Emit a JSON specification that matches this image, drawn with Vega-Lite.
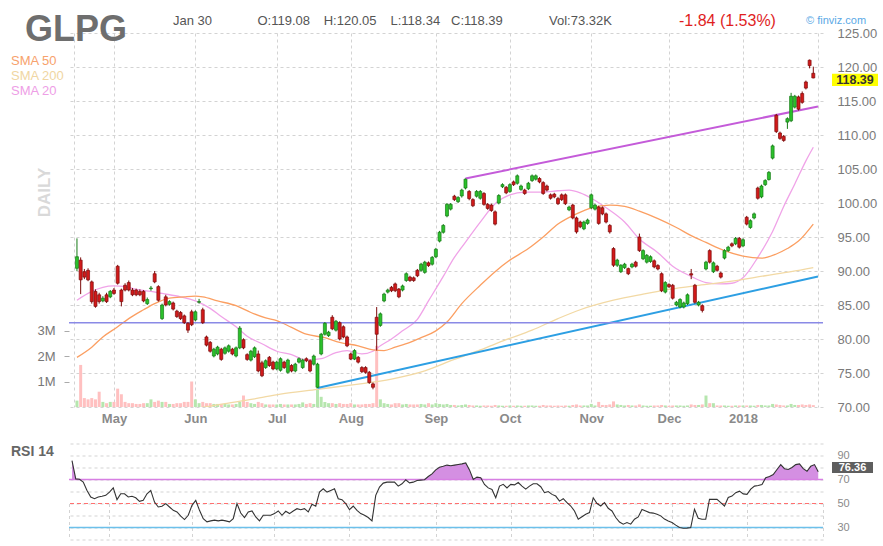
{
"$schema": "https://vega.github.io/schema/vega-lite/v6.json",
"padding": 0,
"autosize": {"type": "pad"},
"background": "white",
"bounds": "flush",
"spacing": 36.5,
"config": {
  "view": {"stroke": null},
  "font": "Liberation Sans",
  "axis": {"gridColor": "#d3d3d3", "gridDash": [3, 3], "gridWidth": 1, "domain": false, "ticks": false, "title": null}
},
"datasets": {
"ohlc": [
{"i":0,"o":90.4,"h":94.8,"l":90.0,"c":92.1,"v":250000,"rsi":85.7},
{"i":1,"o":91.6,"h":92.0,"l":86.6,"c":88.7,"v":1650000,"rsi":70.5},
{"i":2,"o":89.9,"h":90.3,"l":88.8,"c":89.1,"v":350000,"rsi":70.2},
{"i":3,"o":90.1,"h":90.4,"l":88.5,"c":88.7,"v":300000,"rsi":67.8},
{"i":4,"o":88.4,"h":88.6,"l":85.2,"c":85.5,"v":350000,"rsi":60.9},
{"i":5,"o":87.0,"h":87.3,"l":84.6,"c":84.8,"v":300000,"rsi":55.4},
{"i":6,"o":86.5,"h":86.8,"l":85.2,"c":85.5,"v":600000,"rsi":54.0},
{"i":7,"o":85.6,"h":86.3,"l":85.4,"c":86.0,"v":200000,"rsi":55.4},
{"i":8,"o":86.5,"h":86.8,"l":85.3,"c":85.5,"v":150000,"rsi":56.0},
{"i":9,"o":86.2,"h":87.2,"l":86.0,"c":87.0,"v":200000,"rsi":56.8},
{"i":10,"o":87.2,"h":87.5,"l":86.5,"c":86.7,"v":200000,"rsi":59.5},
{"i":11,"o":90.7,"h":90.9,"l":88.0,"c":88.2,"v":720000,"rsi":63.0},
{"i":12,"o":87.2,"h":87.4,"l":84.8,"c":85.5,"v":500000,"rsi":53.2},
{"i":13,"o":87.9,"h":88.2,"l":87.0,"c":87.2,"v":200000,"rsi":58.1},
{"i":14,"o":88.3,"h":88.6,"l":87.0,"c":87.2,"v":150000,"rsi":58.1},
{"i":15,"o":87.2,"h":87.5,"l":86.3,"c":86.5,"v":150000,"rsi":55.4},
{"i":16,"o":87.2,"h":87.4,"l":86.3,"c":86.5,"v":120000,"rsi":56.0},
{"i":17,"o":87.0,"h":87.3,"l":86.3,"c":86.5,"v":120000,"rsi":54.8},
{"i":18,"o":87.0,"h":87.2,"l":85.4,"c":85.6,"v":150000,"rsi":51.8},
{"i":19,"o":85.2,"h":86.1,"l":85.0,"c":85.8,"v":150000,"rsi":52.6},
{"i":20,"o":87.4,"h":87.8,"l":87.1,"c":87.5,"v":300000,"rsi":58.1},
{"i":21,"o":89.6,"h":90.0,"l":88.2,"c":88.4,"v":200000,"rsi":60.9},
{"i":22,"o":87.7,"h":87.9,"l":85.5,"c":85.7,"v":250000,"rsi":51.2},
{"i":23,"o":83.0,"h":85.2,"l":82.8,"c":85.0,"v":200000,"rsi":47.1},
{"i":24,"o":86.2,"h":86.5,"l":84.8,"c":85.0,"v":200000,"rsi":47.7},
{"i":25,"o":85.1,"h":85.7,"l":84.9,"c":85.5,"v":120000,"rsi":49.9},
{"i":26,"o":85.3,"h":85.5,"l":84.2,"c":84.4,"v":120000,"rsi":47.1},
{"i":27,"o":84.1,"h":84.3,"l":83.1,"c":83.3,"v":150000,"rsi":44.3},
{"i":28,"o":83.9,"h":84.1,"l":82.8,"c":83.0,"v":150000,"rsi":43.0},
{"i":29,"o":83.4,"h":83.6,"l":82.2,"c":82.4,"v":200000,"rsi":39.4},
{"i":30,"o":82.3,"h":82.5,"l":80.9,"c":81.3,"v":200000,"rsi":36.6},
{"i":31,"o":84.0,"h":84.3,"l":81.9,"c":82.1,"v":1000000,"rsi":40.2},
{"i":32,"o":82.8,"h":84.2,"l":82.6,"c":84.0,"v":300000,"rsi":48.5},
{"i":33,"o":85.4,"h":85.9,"l":85.2,"c":85.5,"v":150000,"rsi":52.6},
{"i":34,"o":84.3,"h":84.6,"l":82.2,"c":82.4,"v":200000,"rsi":44.3},
{"i":35,"o":80.3,"h":80.5,"l":78.9,"c":79.1,"v":150000,"rsi":37.4},
{"i":36,"o":79.5,"h":79.7,"l":78.0,"c":78.2,"v":150000,"rsi":34.7},
{"i":37,"o":77.5,"h":78.7,"l":77.3,"c":78.5,"v":120000,"rsi":35.5},
{"i":38,"o":77.8,"h":79.0,"l":77.6,"c":78.8,"v":120000,"rsi":36.1},
{"i":39,"o":78.5,"h":78.7,"l":76.8,"c":77.0,"v":120000,"rsi":35.5},
{"i":40,"o":77.9,"h":78.9,"l":77.7,"c":78.7,"v":120000,"rsi":36.1},
{"i":41,"o":78.2,"h":79.2,"l":78.0,"c":79.0,"v":100000,"rsi":35.5},
{"i":42,"o":78.5,"h":78.7,"l":77.6,"c":77.8,"v":100000,"rsi":34.7},
{"i":43,"o":77.5,"h":78.9,"l":77.3,"c":78.7,"v":120000,"rsi":37.4},
{"i":44,"o":78.7,"h":81.9,"l":78.5,"c":81.6,"v":200000,"rsi":49.9},
{"i":45,"o":79.9,"h":80.1,"l":78.5,"c":78.7,"v":450000,"rsi":42.1},
{"i":46,"o":77.7,"h":77.9,"l":76.8,"c":77.0,"v":200000,"rsi":38.3},
{"i":47,"o":76.9,"h":78.4,"l":76.7,"c":78.2,"v":150000,"rsi":43.0},
{"i":48,"o":77.4,"h":78.9,"l":77.2,"c":78.7,"v":120000,"rsi":43.8},
{"i":49,"o":77.8,"h":78.3,"l":75.1,"c":75.3,"v":200000,"rsi":38.8},
{"i":50,"o":76.5,"h":76.8,"l":74.4,"c":74.6,"v":150000,"rsi":35.5},
{"i":51,"o":75.8,"h":77.0,"l":75.6,"c":76.8,"v":100000,"rsi":40.2},
{"i":52,"o":77.3,"h":77.5,"l":75.9,"c":76.1,"v":100000,"rsi":40.2},
{"i":53,"o":76.6,"h":76.8,"l":75.4,"c":75.6,"v":100000,"rsi":40.2},
{"i":54,"o":75.6,"h":76.8,"l":75.4,"c":76.6,"v":100000,"rsi":41.6},
{"i":55,"o":75.4,"h":77.3,"l":75.2,"c":77.1,"v":120000,"rsi":43.8},
{"i":56,"o":76.6,"h":76.8,"l":75.6,"c":75.8,"v":100000,"rsi":40.2},
{"i":57,"o":75.1,"h":77.1,"l":74.9,"c":76.9,"v":100000,"rsi":43.5},
{"i":58,"o":76.1,"h":76.3,"l":75.1,"c":75.3,"v":100000,"rsi":41.6},
{"i":59,"o":75.3,"h":76.5,"l":75.1,"c":76.3,"v":100000,"rsi":43.8},
{"i":60,"o":76.6,"h":77.3,"l":76.4,"c":77.1,"v":120000,"rsi":45.7},
{"i":61,"o":75.8,"h":77.1,"l":75.6,"c":76.9,"v":180000,"rsi":44.8},
{"i":62,"o":77.1,"h":77.3,"l":76.6,"c":76.8,"v":120000,"rsi":45.7},
{"i":63,"o":76.8,"h":77.0,"l":75.1,"c":75.3,"v":150000,"rsi":43.0},
{"i":64,"o":76.3,"h":77.7,"l":76.1,"c":77.5,"v":120000,"rsi":49.3},
{"i":65,"o":72.9,"h":76.5,"l":72.8,"c":76.3,"v":750000,"rsi":47.7},
{"i":66,"o":77.8,"h":80.9,"l":77.6,"c":80.7,"v":400000,"rsi":59.5},
{"i":67,"o":80.7,"h":82.5,"l":80.5,"c":82.3,"v":200000,"rsi":62.3},
{"i":68,"o":80.5,"h":81.2,"l":80.3,"c":81.0,"v":150000,"rsi":59.5},
{"i":69,"o":83.2,"h":83.5,"l":81.3,"c":81.5,"v":150000,"rsi":60.9},
{"i":70,"o":81.3,"h":82.8,"l":81.1,"c":82.6,"v":120000,"rsi":62.3},
{"i":71,"o":82.4,"h":82.6,"l":79.8,"c":80.0,"v":150000,"rsi":54.0},
{"i":72,"o":81.8,"h":82.0,"l":80.1,"c":80.3,"v":120000,"rsi":53.2},
{"i":73,"o":80.3,"h":80.5,"l":78.8,"c":79.0,"v":120000,"rsi":49.9},
{"i":74,"o":77.8,"h":78.0,"l":76.9,"c":77.05,"v":150000,"rsi":44.8},
{"i":75,"o":77.05,"h":78.5,"l":76.9,"c":78.3,"v":100000,"rsi":47.9},
{"i":76,"o":77.3,"h":77.5,"l":76.4,"c":76.6,"v":100000,"rsi":44.3},
{"i":77,"o":75.8,"h":76.0,"l":75.0,"c":75.2,"v":100000,"rsi":41.6},
{"i":78,"o":75.8,"h":76.0,"l":74.9,"c":75.1,"v":120000,"rsi":40.2},
{"i":79,"o":75.1,"h":75.3,"l":73.4,"c":73.6,"v":120000,"rsi":38.3},
{"i":80,"o":73.4,"h":73.6,"l":72.6,"c":72.9,"v":150000,"rsi":35.5},
{"i":81,"o":83.2,"h":84.7,"l":78.3,"c":80.7,"v":2400000,"rsi":56.8},
{"i":82,"o":82.0,"h":83.9,"l":81.8,"c":83.7,"v":300000,"rsi":63.7},
{"i":83,"o":85.6,"h":86.8,"l":85.4,"c":86.6,"v":150000,"rsi":67.0},
{"i":84,"o":86.9,"h":87.4,"l":86.7,"c":87.2,"v":120000,"rsi":67.8},
{"i":85,"o":87.6,"h":87.8,"l":86.9,"c":87.1,"v":100000,"rsi":67.8},
{"i":86,"o":88.1,"h":88.3,"l":86.9,"c":87.1,"v":150000,"rsi":67.8},
{"i":87,"o":87.35,"h":87.5,"l":86.0,"c":86.2,"v":150000,"rsi":64.5},
{"i":88,"o":87.2,"h":88.0,"l":87.0,"c":87.8,"v":100000,"rsi":66.4},
{"i":89,"o":88.6,"h":89.8,"l":88.4,"c":89.6,"v":120000,"rsi":69.7},
{"i":90,"o":89.1,"h":89.3,"l":88.4,"c":88.6,"v":100000,"rsi":67.2},
{"i":91,"o":89.0,"h":89.2,"l":88.4,"c":88.6,"v":100000,"rsi":67.8},
{"i":92,"o":90.1,"h":90.3,"l":89.1,"c":89.3,"v":100000,"rsi":69.2},
{"i":93,"o":90.1,"h":91.2,"l":89.9,"c":91.0,"v":120000,"rsi":69.5},
{"i":94,"o":89.8,"h":91.5,"l":89.6,"c":91.3,"v":100000,"rsi":69.8},
{"i":95,"o":91.2,"h":91.4,"l":90.6,"c":90.8,"v":150000,"rsi":72.5},
{"i":96,"o":91.0,"h":92.2,"l":90.8,"c":92.0,"v":100000,"rsi":74.7},
{"i":97,"o":92.1,"h":93.4,"l":91.9,"c":93.2,"v":150000,"rsi":78.0},
{"i":98,"o":94.4,"h":95.9,"l":94.2,"c":95.7,"v":120000,"rsi":80.2},
{"i":99,"o":95.7,"h":96.9,"l":95.5,"c":96.7,"v":100000,"rsi":81.0},
{"i":100,"o":98.1,"h":100.0,"l":97.9,"c":99.8,"v":120000,"rsi":82.0},
{"i":101,"o":99.1,"h":100.0,"l":98.9,"c":99.8,"v":80000,"rsi":81.5},
{"i":102,"o":101.0,"h":101.2,"l":100.3,"c":100.5,"v":80000,"rsi":82.0},
{"i":103,"o":100.2,"h":101.0,"l":100.0,"c":100.8,"v":60000,"rsi":82.5},
{"i":104,"o":101.04,"h":102.1,"l":100.8,"c":101.9,"v":80000,"rsi":83.0},
{"i":105,"o":102.2,"h":103.6,"l":102.0,"c":103.5,"v":100000,"rsi":83.8},
{"i":106,"o":101.7,"h":101.9,"l":100.4,"c":100.65,"v":80000,"rsi":78.0},
{"i":107,"o":100.5,"h":100.7,"l":99.4,"c":99.6,"v":60000,"rsi":70.0},
{"i":108,"o":101.0,"h":101.9,"l":100.8,"c":101.7,"v":60000,"rsi":72.0},
{"i":109,"o":100.7,"h":101.9,"l":100.5,"c":101.7,"v":50000,"rsi":71.4},
{"i":110,"o":101.4,"h":101.6,"l":99.6,"c":99.8,"v":60000,"rsi":65.9},
{"i":111,"o":99.8,"h":100.0,"l":99.0,"c":99.2,"v":60000,"rsi":63.0},
{"i":112,"o":99.7,"h":99.9,"l":98.7,"c":98.9,"v":50000,"rsi":61.7},
{"i":113,"o":98.7,"h":98.9,"l":96.7,"c":96.9,"v":80000,"rsi":54.8},
{"i":114,"o":100.0,"h":101.3,"l":99.8,"c":101.1,"v":60000,"rsi":64.5},
{"i":115,"o":102.4,"h":102.9,"l":102.2,"c":102.7,"v":50000,"rsi":66.0},
{"i":116,"o":102.3,"h":102.5,"l":101.3,"c":101.5,"v":50000,"rsi":63.0},
{"i":117,"o":101.7,"h":102.9,"l":101.5,"c":102.7,"v":60000,"rsi":65.9},
{"i":118,"o":103.1,"h":103.3,"l":102.5,"c":102.7,"v":50000,"rsi":65.5},
{"i":119,"o":102.9,"h":104.2,"l":102.7,"c":104.0,"v":60000,"rsi":67.5},
{"i":120,"o":102.0,"h":102.7,"l":101.8,"c":102.5,"v":50000,"rsi":64.5},
{"i":121,"o":101.9,"h":102.1,"l":101.2,"c":101.4,"v":50000,"rsi":62.0},
{"i":122,"o":102.1,"h":103.1,"l":101.9,"c":102.9,"v":60000,"rsi":64.5},
{"i":123,"o":103.3,"h":104.2,"l":103.1,"c":104.0,"v":60000,"rsi":66.4},
{"i":124,"o":103.5,"h":104.2,"l":103.3,"c":104.0,"v":50000,"rsi":66.4},
{"i":125,"o":103.6,"h":103.8,"l":102.9,"c":103.1,"v":50000,"rsi":64.0},
{"i":126,"o":103.0,"h":103.2,"l":101.2,"c":101.4,"v":80000,"rsi":59.0},
{"i":127,"o":102.5,"h":102.7,"l":101.7,"c":101.9,"v":60000,"rsi":60.0},
{"i":128,"o":101.2,"h":101.4,"l":100.5,"c":100.7,"v":60000,"rsi":57.6},
{"i":129,"o":101.3,"h":101.5,"l":100.7,"c":100.9,"v":50000,"rsi":56.2},
{"i":130,"o":100.65,"h":100.9,"l":99.7,"c":99.9,"v":60000,"rsi":52.0},
{"i":131,"o":101.2,"h":101.4,"l":100.3,"c":100.5,"v":50000,"rsi":54.0},
{"i":132,"o":101.2,"h":101.4,"l":99.7,"c":99.9,"v":60000,"rsi":50.7},
{"i":133,"o":99.0,"h":99.6,"l":98.8,"c":99.4,"v":50000,"rsi":47.9},
{"i":134,"o":99.7,"h":99.9,"l":97.6,"c":97.8,"v":80000,"rsi":43.8},
{"i":135,"o":97.8,"h":98.0,"l":95.5,"c":95.75,"v":100000,"rsi":36.9},
{"i":136,"o":97.2,"h":97.4,"l":96.3,"c":96.5,"v":60000,"rsi":39.0},
{"i":137,"o":96.2,"h":97.4,"l":96.0,"c":97.2,"v":60000,"rsi":41.0},
{"i":138,"o":97.0,"h":97.7,"l":96.8,"c":97.5,"v":60000,"rsi":42.4},
{"i":139,"o":99.3,"h":101.4,"l":99.1,"c":101.2,"v":120000,"rsi":54.8},
{"i":140,"o":99.1,"h":99.9,"l":98.9,"c":99.7,"v":60000,"rsi":50.0},
{"i":141,"o":99.4,"h":99.6,"l":96.8,"c":97.0,"v":200000,"rsi":47.9},
{"i":142,"o":99.3,"h":99.5,"l":98.2,"c":98.4,"v":80000,"rsi":50.7},
{"i":143,"o":98.4,"h":98.6,"l":97.0,"c":97.2,"v":80000,"rsi":46.0},
{"i":144,"o":96.7,"h":96.9,"l":95.5,"c":95.75,"v":100000,"rsi":43.8},
{"i":145,"o":93.3,"h":93.5,"l":90.6,"c":90.85,"v":220000,"rsi":38.3},
{"i":146,"o":90.85,"h":91.8,"l":90.6,"c":91.6,"v":100000,"rsi":34.5},
{"i":147,"o":89.9,"h":91.0,"l":89.7,"c":90.85,"v":80000,"rsi":32.8},
{"i":148,"o":90.5,"h":91.2,"l":90.3,"c":91.0,"v":60000,"rsi":34.1},
{"i":149,"o":90.35,"h":90.5,"l":89.4,"c":89.6,"v":80000,"rsi":32.8},
{"i":150,"o":90.6,"h":91.2,"l":90.4,"c":91.0,"v":60000,"rsi":36.9},
{"i":151,"o":91.3,"h":91.5,"l":90.5,"c":90.7,"v":60000,"rsi":38.8},
{"i":152,"o":95.0,"h":95.5,"l":92.8,"c":93.0,"v":100000,"rsi":45.0},
{"i":153,"o":91.8,"h":93.2,"l":91.6,"c":93.0,"v":60000,"rsi":43.8},
{"i":154,"o":91.3,"h":92.5,"l":91.1,"c":92.3,"v":50000,"rsi":42.4},
{"i":155,"o":91.4,"h":92.3,"l":91.2,"c":92.1,"v":50000,"rsi":42.0},
{"i":156,"o":91.5,"h":91.7,"l":90.4,"c":90.6,"v":60000,"rsi":41.0},
{"i":157,"o":90.8,"h":91.0,"l":90.1,"c":90.3,"v":60000,"rsi":39.7},
{"i":158,"o":89.6,"h":89.8,"l":86.9,"c":87.1,"v":80000,"rsi":37.0},
{"i":159,"o":86.9,"h":88.5,"l":86.7,"c":88.3,"v":60000,"rsi":35.5},
{"i":160,"o":88.0,"h":88.2,"l":87.5,"c":87.7,"v":50000,"rsi":34.1},
{"i":161,"o":87.9,"h":88.1,"l":85.8,"c":86.0,"v":60000,"rsi":32.0},
{"i":162,"o":85.0,"h":85.6,"l":84.8,"c":85.4,"v":60000,"rsi":30.0},
{"i":163,"o":84.7,"h":86.0,"l":84.5,"c":85.8,"v":60000,"rsi":29.4},
{"i":164,"o":84.7,"h":85.5,"l":84.5,"c":85.3,"v":50000,"rsi":29.5},
{"i":165,"o":85.2,"h":86.7,"l":85.0,"c":86.5,"v":60000,"rsi":30.0},
{"i":166,"o":89.6,"h":90.3,"l":88.8,"c":89.4,"v":100000,"rsi":45.2},
{"i":167,"o":87.9,"h":88.1,"l":85.2,"c":85.4,"v":80000,"rsi":37.7},
{"i":168,"o":85.0,"h":85.6,"l":84.8,"c":85.4,"v":80000,"rsi":36.9},
{"i":169,"o":84.9,"h":85.1,"l":83.9,"c":84.2,"v":100000,"rsi":36.9},
{"i":170,"o":90.3,"h":91.5,"l":90.1,"c":91.3,"v":450000,"rsi":53.4},
{"i":171,"o":93.0,"h":93.2,"l":91.1,"c":91.3,"v":150000,"rsi":53.4},
{"i":172,"o":89.9,"h":91.4,"l":89.7,"c":91.2,"v":150000,"rsi":53.4},
{"i":173,"o":90.7,"h":90.9,"l":89.9,"c":90.1,"v":60000,"rsi":50.7},
{"i":174,"o":89.7,"h":89.9,"l":88.9,"c":89.1,"v":60000,"rsi":47.9},
{"i":175,"o":91.9,"h":93.2,"l":91.7,"c":93.0,"v":60000,"rsi":55.0},
{"i":176,"o":93.0,"h":93.7,"l":92.8,"c":93.5,"v":50000,"rsi":56.2},
{"i":177,"o":94.0,"h":94.2,"l":93.5,"c":93.7,"v":50000,"rsi":59.0},
{"i":178,"o":94.0,"h":95.0,"l":93.8,"c":94.8,"v":60000,"rsi":60.3},
{"i":179,"o":94.8,"h":95.0,"l":93.3,"c":93.5,"v":60000,"rsi":58.0},
{"i":180,"o":93.7,"h":94.8,"l":93.5,"c":94.6,"v":60000,"rsi":57.6},
{"i":181,"o":97.9,"h":98.1,"l":96.7,"c":96.9,"v":60000,"rsi":62.0},
{"i":182,"o":96.4,"h":97.6,"l":96.2,"c":97.4,"v":60000,"rsi":64.5},
{"i":183,"o":97.8,"h":98.6,"l":97.6,"c":98.4,"v":50000,"rsi":65.0},
{"i":184,"o":102.2,"h":102.4,"l":100.5,"c":100.7,"v":80000,"rsi":65.9},
{"i":185,"o":100.9,"h":102.7,"l":100.7,"c":102.5,"v":80000,"rsi":71.4},
{"i":186,"o":102.7,"h":103.5,"l":102.5,"c":103.3,"v":60000,"rsi":72.5},
{"i":187,"o":103.45,"h":104.7,"l":103.3,"c":104.5,"v":60000,"rsi":74.1},
{"i":188,"o":106.6,"h":108.6,"l":106.4,"c":108.4,"v":120000,"rsi":78.3},
{"i":189,"o":112.9,"h":113.1,"l":110.3,"c":110.5,"v":100000,"rsi":82.4},
{"i":190,"o":110.3,"h":110.5,"l":109.3,"c":109.5,"v":80000,"rsi":79.0},
{"i":191,"o":109.8,"h":110.0,"l":109.0,"c":109.2,"v":60000,"rsi":78.3},
{"i":192,"o":111.9,"h":112.6,"l":110.9,"c":112.4,"v":60000,"rsi":80.0},
{"i":193,"o":112.1,"h":116.2,"l":111.9,"c":115.7,"v":120000,"rsi":82.4},
{"i":194,"o":114.1,"h":115.9,"l":113.9,"c":115.7,"v":80000,"rsi":83.0},
{"i":195,"o":115.6,"h":115.8,"l":113.6,"c":113.8,"v":80000,"rsi":79.0},
{"i":196,"o":116.1,"h":116.4,"l":114.6,"c":114.8,"v":100000,"rsi":76.9},
{"i":197,"o":117.8,"h":118.0,"l":116.7,"c":116.9,"v":80000,"rsi":81.0},
{"i":198,"o":121.0,"h":121.1,"l":119.8,"c":120.2,"v":100000,"rsi":82.4},
{"i":199,"o":119.08,"h":120.05,"l":118.34,"c":118.39,"v":73320,"rsi":76.36}
],
"sma": [
{"s":"SMA 20","i":0,"v":85.7},{"s":"SMA 20","i":4,"v":87.0},{"s":"SMA 20","i":7,"v":87.6},{"s":"SMA 20","i":10,"v":87.8},{"s":"SMA 20","i":13,"v":87.7},{"s":"SMA 20","i":16,"v":87.3},{"s":"SMA 20","i":20,"v":87.0},{"s":"SMA 20","i":23,"v":86.7},{"s":"SMA 20","i":28,"v":86.2},{"s":"SMA 20","i":32,"v":85.6},{"s":"SMA 20","i":36,"v":84.5},{"s":"SMA 20","i":39,"v":83.3},{"s":"SMA 20","i":43,"v":81.8},{"s":"SMA 20","i":46,"v":80.4},{"s":"SMA 20","i":50,"v":79.3},{"s":"SMA 20","i":54,"v":78.2},{"s":"SMA 20","i":58,"v":77.7},{"s":"SMA 20","i":62,"v":76.9},{"s":"SMA 20","i":66,"v":77.1},{"s":"SMA 20","i":70,"v":78.0},{"s":"SMA 20","i":73,"v":78.3},{"s":"SMA 20","i":77,"v":77.8},{"s":"SMA 20","i":80,"v":78.2},{"s":"SMA 20","i":82,"v":79.0},{"s":"SMA 20","i":85,"v":80.0},{"s":"SMA 20","i":88,"v":81.2},{"s":"SMA 20","i":92,"v":82.9},{"s":"SMA 20","i":95,"v":85.6},{"s":"SMA 20","i":99,"v":89.2},{"s":"SMA 20","i":102,"v":92.0},{"s":"SMA 20","i":104,"v":93.5},{"s":"SMA 20","i":109,"v":97.2},{"s":"SMA 20","i":113,"v":99.9},{"s":"SMA 20","i":117,"v":101.2},{"s":"SMA 20","i":121,"v":101.6},{"s":"SMA 20","i":126,"v":101.6},{"s":"SMA 20","i":130,"v":101.8},{"s":"SMA 20","i":133,"v":101.9},{"s":"SMA 20","i":136,"v":101.5},{"s":"SMA 20","i":139,"v":100.7},{"s":"SMA 20","i":143,"v":99.3},{"s":"SMA 20","i":148,"v":97.2},{"s":"SMA 20","i":152,"v":94.7},{"s":"SMA 20","i":157,"v":92.7},{"s":"SMA 20","i":161,"v":90.7},{"s":"SMA 20","i":166,"v":89.2},{"s":"SMA 20","i":170,"v":88.3},{"s":"SMA 20","i":174,"v":88.1},{"s":"SMA 20","i":177,"v":88.2},{"s":"SMA 20","i":180,"v":89.0},{"s":"SMA 20","i":184,"v":92.0},{"s":"SMA 20","i":188,"v":95.8},{"s":"SMA 20","i":191,"v":99.5},{"s":"SMA 20","i":194,"v":102.8},{"s":"SMA 20","i":197,"v":106.2},{"s":"SMA 20","i":199,"v":108.2},
{"s":"SMA 50","i":0,"v":77.3},{"s":"SMA 50","i":4,"v":78.8},{"s":"SMA 50","i":7,"v":80.3},{"s":"SMA 50","i":11,"v":81.8},{"s":"SMA 50","i":14,"v":83.0},{"s":"SMA 50","i":18,"v":84.3},{"s":"SMA 50","i":21,"v":85.2},{"s":"SMA 50","i":25,"v":86.0},{"s":"SMA 50","i":29,"v":86.2},{"s":"SMA 50","i":32,"v":86.3},{"s":"SMA 50","i":34,"v":86.2},{"s":"SMA 50","i":38,"v":85.6},{"s":"SMA 50","i":43,"v":84.9},{"s":"SMA 50","i":47,"v":83.9},{"s":"SMA 50","i":51,"v":83.1},{"s":"SMA 50","i":54,"v":82.7},{"s":"SMA 50","i":58,"v":81.7},{"s":"SMA 50","i":62,"v":80.7},{"s":"SMA 50","i":67,"v":80.2},{"s":"SMA 50","i":71,"v":79.5},{"s":"SMA 50","i":76,"v":79.0},{"s":"SMA 50","i":80,"v":78.4},{"s":"SMA 50","i":83,"v":78.3},{"s":"SMA 50","i":86,"v":78.8},{"s":"SMA 50","i":90,"v":79.5},{"s":"SMA 50","i":93,"v":80.2},{"s":"SMA 50","i":97,"v":81.2},{"s":"SMA 50","i":100,"v":82.5},{"s":"SMA 50","i":104,"v":85.2},{"s":"SMA 50","i":109,"v":87.9},{"s":"SMA 50","i":113,"v":89.9},{"s":"SMA 50","i":117,"v":91.6},{"s":"SMA 50","i":122,"v":93.3},{"s":"SMA 50","i":126,"v":95.0},{"s":"SMA 50","i":130,"v":96.9},{"s":"SMA 50","i":135,"v":98.4},{"s":"SMA 50","i":139,"v":99.3},{"s":"SMA 50","i":144,"v":99.7},{"s":"SMA 50","i":148,"v":99.5},{"s":"SMA 50","i":152,"v":98.8},{"s":"SMA 50","i":157,"v":97.7},{"s":"SMA 50","i":162,"v":96.4},{"s":"SMA 50","i":166,"v":95.2},{"s":"SMA 50","i":170,"v":94.2},{"s":"SMA 50","i":175,"v":93.0},{"s":"SMA 50","i":180,"v":92.2},{"s":"SMA 50","i":185,"v":91.9},{"s":"SMA 50","i":189,"v":92.5},{"s":"SMA 50","i":192,"v":93.3},{"s":"SMA 50","i":195,"v":94.4},{"s":"SMA 50","i":199,"v":96.9},
{"s":"SMA 200","i":30,"v":69.6},{"s":"SMA 200","i":40,"v":70.5},{"s":"SMA 200","i":48,"v":71.2},{"s":"SMA 200","i":55,"v":71.9},{"s":"SMA 200","i":65,"v":72.6},{"s":"SMA 200","i":75,"v":73.3},{"s":"SMA 200","i":85,"v":74.1},{"s":"SMA 200","i":94,"v":75.3},{"s":"SMA 200","i":102,"v":77.0},{"s":"SMA 200","i":109,"v":78.4},{"s":"SMA 200","i":116,"v":79.9},{"s":"SMA 200","i":123,"v":81.3},{"s":"SMA 200","i":130,"v":83.0},{"s":"SMA 200","i":136,"v":84.3},{"s":"SMA 200","i":145,"v":85.7},{"s":"SMA 200","i":153,"v":86.6},{"s":"SMA 200","i":160,"v":87.3},{"s":"SMA 200","i":168,"v":87.9},{"s":"SMA 200","i":177,"v":88.5},{"s":"SMA 200","i":186,"v":89.3},{"s":"SMA 200","i":193,"v":89.9},{"s":"SMA 200","i":199,"v":90.5}
],
"trend": [
{"t":"res","i":105,"p":103.6},{"t":"res","i":200.27,"p":114.2},
{"t":"sup","i":65,"p":72.8},{"t":"sup","i":200.27,"p":89.2}
]
},
"vconcat": [
{
"width": 754, "height": 374,
"layer": [
 {"data": {"values": [{}]}, "mark": {"type": "rect", "x": -69, "x2": 814, "y": -32.5, "y2": 513.5, "opacity": 0}, "encoding": {}},
 {"data": {"name": "ohlc"}, "mark": {"type": "bar", "size": 3},
  "encoding": {
   "x": {"field": "i", "type": "quantitative", "scale": {"domain": [-0.8, 200.27], "nice": false, "zero": false},
     "axis": {"values": [-0.8, 10, 32, 54, 74, 97, 117, 139, 160, 180, 200.27], "grid": true,
       "labelExpr": "datum.value==10?'May':datum.value==32?'Jun':datum.value==54?'Jul':datum.value==74?'Aug':datum.value==97?'Sep':datum.value==117?'Oct':datum.value==139?'Nov':datum.value==160?'Dec':datum.value==180?'2018':''",
       "labelFontWeight": "bold", "labelFontSize": 13, "labelColor": "#8a8a8a", "labelPadding": 5, "labelFlush": false, "labelOverlap": false}},
   "y": {"field": "v", "type": "quantitative", "scale": {"domain": [0, 14670000], "nice": false},
     "axis": {"orient": "left", "values": [1000000, 2000000, 3000000], "labelExpr": "(datum.value/1000000) + 'M'", "grid": false, "ticks": true, "tickSize": 5, "tickColor": "#aaaaaa", "labelPadding": 9, "labelFontSize": 13, "labelColor": "#777777"}},
   "color": {"condition": {"test": "datum.c >= datum.o", "value": "#b6e6ae"}, "value": "#ffc0c0"}
  }},
 {"layer": [
  {"data": {"name": "sma"}, "mark": {"type": "line", "strokeWidth": 1.3, "interpolate": "monotone", "clip": true},
   "encoding": {
    "x": {"field": "i", "type": "quantitative"},
    "y": {"field": "v", "type": "quantitative", "scale": {"domain": [70, 125], "nice": false, "zero": false},
      "axis": {"orient": "right", "values": [70, 75, 80, 85, 90, 95, 100, 105, 110, 115, 120, 125], "format": ".2f", "grid": true, "labelPadding": 14, "labelFontSize": 13, "labelColor": "#7a7a7a", "labelOverlap": false}},
    "color": {"field": "s", "type": "nominal", "scale": {"domain": ["SMA 50", "SMA 200", "SMA 20"], "range": ["#fb9f62", "#f2d9a4", "#f0a3e8"]}, "legend": null}
   }},
  {"data": {"name": "trend"}, "mark": {"type": "line", "strokeWidth": 2},
   "encoding": {
    "x": {"field": "i", "type": "quantitative"},
    "y": {"field": "p", "type": "quantitative",
      "axis": {"orient": "right", "values": [70, 75, 80, 85, 90, 95, 100, 105, 110, 115, 120, 125], "format": ".2f", "grid": true, "labelPadding": 14, "labelFontSize": 13, "labelColor": "#7a7a7a", "labelOverlap": false}},
    "stroke": {"field": "t", "type": "nominal", "scale": {"domain": ["res", "sup"], "range": ["#c45bd9", "#2d9fe3"]}, "legend": null}
   }},
  {"data": {"values": [{}]}, "mark": {"type": "rule", "color": "#8a8ae6", "strokeWidth": 1.5},
   "encoding": {"y": {"datum": 82.4, "type": "quantitative",
      "axis": {"orient": "right", "values": [70, 75, 80, 85, 90, 95, 100, 105, 110, 115, 120, 125], "format": ".2f", "grid": true, "labelPadding": 14, "labelFontSize": 13, "labelColor": "#7a7a7a", "labelOverlap": false}}}},
  {"data": {"name": "ohlc"}, "mark": {"type": "rule", "strokeWidth": 1},
   "encoding": {
    "x": {"field": "i", "type": "quantitative"},
    "y": {"field": "l", "type": "quantitative",
      "axis": {"orient": "right", "values": [70, 75, 80, 85, 90, 95, 100, 105, 110, 115, 120, 125], "format": ".2f", "grid": true, "labelPadding": 14, "labelFontSize": 13, "labelColor": "#7a7a7a", "labelOverlap": false}},
    "y2": {"field": "h"},
    "color": {"condition": {"test": "datum.c >= datum.o", "value": "#157a15"}, "value": "#7d0c0c"}
   }},
  {"data": {"name": "ohlc"}, "mark": {"type": "bar", "size": 3, "strokeWidth": 0.7},
   "encoding": {
    "x": {"field": "i", "type": "quantitative"},
    "y": {"field": "o", "type": "quantitative",
      "axis": {"orient": "right", "values": [70, 75, 80, 85, 90, 95, 100, 105, 110, 115, 120, 125], "format": ".2f", "grid": true, "labelPadding": 14, "labelFontSize": 13, "labelColor": "#7a7a7a", "labelOverlap": false}},
    "y2": {"field": "c"},
    "fill": {"condition": {"test": "datum.c >= datum.o", "value": "#2bc12b"}, "value": "#d21a1a"},
    "stroke": {"condition": {"test": "datum.c >= datum.o", "value": "#157a15"}, "value": "#7d0c0c"}
   }},
  {"data": {"values": [{}]}, "mark": {"type": "rect", "fill": "#ffff00", "x": 763, "x2": 809},
   "encoding": {"y": {"datum": 119.0, "type": "quantitative",
      "axis": {"orient": "right", "values": [70, 75, 80, 85, 90, 95, 100, 105, 110, 115, 120, 125], "format": ".2f", "grid": true, "labelPadding": 14, "labelFontSize": 13, "labelColor": "#7a7a7a", "labelOverlap": false}},
     "y2": {"datum": 117.2}}},
  {"data": {"values": [{}]}, "mark": {"type": "text", "x": 786, "align": "center", "baseline": "middle", "fontSize": 12.5, "fontWeight": "bold", "color": "#333333", "text": "118.39"},
   "encoding": {"y": {"datum": 118.1, "type": "quantitative",
      "axis": {"orient": "right", "values": [70, 75, 80, 85, 90, 95, 100, 105, 110, 115, 120, 125], "format": ".2f", "grid": true, "labelPadding": 14, "labelFontSize": 13, "labelColor": "#7a7a7a", "labelOverlap": false}}}},
  {"data": {"values": [{}]}, "mark": {"type": "text", "x": -44, "y": 7.5, "align": "left", "baseline": "alphabetic", "fontSize": 36, "fontWeight": "bold", "color": "#6e6e6e", "text": "GLPG"}, "encoding": {}},
  {"data": {"values": [{}]}, "mark": {"type": "text", "x": 104, "y": -8.5, "align": "left", "baseline": "alphabetic", "fontSize": 13, "color": "#555555", "text": "Jan 30"}, "encoding": {}},
  {"data": {"values": [{}]}, "mark": {"type": "text", "x": 188.5, "y": -8.5, "align": "left", "baseline": "alphabetic", "fontSize": 13, "color": "#555555", "text": "O:119.08"}, "encoding": {}},
  {"data": {"values": [{}]}, "mark": {"type": "text", "x": 254.7, "y": -8.5, "align": "left", "baseline": "alphabetic", "fontSize": 13, "color": "#555555", "text": "H:120.05"}, "encoding": {}},
  {"data": {"values": [{}]}, "mark": {"type": "text", "x": 321.5, "y": -8.5, "align": "left", "baseline": "alphabetic", "fontSize": 13, "color": "#555555", "text": "L:118.34"}, "encoding": {}},
  {"data": {"values": [{}]}, "mark": {"type": "text", "x": 382, "y": -8.5, "align": "left", "baseline": "alphabetic", "fontSize": 13, "color": "#555555", "text": "C:118.39"}, "encoding": {}},
  {"data": {"values": [{}]}, "mark": {"type": "text", "x": 480, "y": -8.5, "align": "left", "baseline": "alphabetic", "fontSize": 13, "color": "#555555", "text": "Vol:73.32K"}, "encoding": {}},
  {"data": {"values": [{}]}, "mark": {"type": "text", "x": 610, "y": -7, "align": "left", "baseline": "alphabetic", "fontSize": 16, "color": "#e01e1e", "text": "-1.84 (1.53%)"}, "encoding": {}},
  {"data": {"values": [{}]}, "mark": {"type": "text", "x": 737, "y": -9, "align": "left", "baseline": "alphabetic", "fontSize": 11, "color": "#5aa9e6", "text": "© finviz.com"}, "encoding": {}},
  {"data": {"values": [{}]}, "mark": {"type": "text", "x": -58, "y": 32, "align": "left", "baseline": "alphabetic", "fontSize": 13, "color": "#f7a26c", "text": "SMA 50"}, "encoding": {}},
  {"data": {"values": [{}]}, "mark": {"type": "text", "x": -58, "y": 47, "align": "left", "baseline": "alphabetic", "fontSize": 13, "color": "#f0d6a2", "text": "SMA 200"}, "encoding": {}},
  {"data": {"values": [{}]}, "mark": {"type": "text", "x": -58, "y": 62, "align": "left", "baseline": "alphabetic", "fontSize": 13, "color": "#ee9ee6", "text": "SMA 20"}, "encoding": {}},
  {"data": {"values": [{}]}, "mark": {"type": "text", "x": -24, "y": 159.5, "angle": 270, "align": "center", "baseline": "middle", "fontSize": 17, "fontWeight": "bold", "color": "#d9d9d9", "text": "DAILY"}, "encoding": {}}
 ]}
],
"resolve": {"scale": {"y": "independent"}}
},
{
"width": 754, "height": 96,
"layer": [
 {"data": {"name": "ohlc"}, "mark": {"type": "area", "color": "#d48fe2", "opacity": 1},
  "encoding": {
   "x": {"field": "i", "type": "quantitative", "scale": {"domain": [-0.8, 200.27], "nice": false, "zero": false}},
   "y": {"field": "rsi", "type": "quantitative", "scale": {"domain": [70, 100], "range": [36, 0], "clamp": true, "nice": false, "zero": false}, "axis": null},
   "y2": {"datum": 70}
  }},
 {"layer": [
  {"data": {"values": [{}]}, "mark": {"type": "rule", "color": "#d77fe3", "strokeWidth": 1.5},
   "encoding": {"y": {"datum": 70, "type": "quantitative", "scale": {"domain": [20, 100], "nice": false, "zero": false},
      "axis": {"orient": "right", "values": [20, 30, 40, 50, 60, 70, 80, 90, 100], "grid": true, "labelExpr": "(datum.value==30||datum.value==50||datum.value==70||datum.value==90) ? datum.label : ''", "labelPadding": 14, "labelFontSize": 11, "labelColor": "#8a8a8a", "labelOverlap": false}}}},
  {"data": {"values": [{}]}, "mark": {"type": "rule", "color": "#ff7070", "strokeWidth": 1, "strokeDash": [4, 3]},
   "encoding": {"y": {"datum": 50, "type": "quantitative",
      "axis": {"orient": "right", "values": [20, 30, 40, 50, 60, 70, 80, 90, 100], "grid": true, "labelExpr": "(datum.value==30||datum.value==50||datum.value==70||datum.value==90) ? datum.label : ''", "labelPadding": 14, "labelFontSize": 11, "labelColor": "#8a8a8a", "labelOverlap": false}}}},
  {"data": {"values": [{}]}, "mark": {"type": "rule", "color": "#6cc0ea", "strokeWidth": 1.5},
   "encoding": {"y": {"datum": 30, "type": "quantitative",
      "axis": {"orient": "right", "values": [20, 30, 40, 50, 60, 70, 80, 90, 100], "grid": true, "labelExpr": "(datum.value==30||datum.value==50||datum.value==70||datum.value==90) ? datum.label : ''", "labelPadding": 14, "labelFontSize": 11, "labelColor": "#8a8a8a", "labelOverlap": false}}}},
  {"data": {"name": "ohlc"}, "mark": {"type": "line", "color": "#333333", "strokeWidth": 1.1},
   "encoding": {
    "x": {"field": "i", "type": "quantitative",
      "axis": {"values": [-0.8, 10, 32, 54, 74, 97, 117, 139, 160, 180, 200.27], "grid": true, "labels": false}},
    "y": {"field": "rsi", "type": "quantitative",
      "axis": {"orient": "right", "values": [20, 30, 40, 50, 60, 70, 80, 90, 100], "grid": true, "labelExpr": "(datum.value==30||datum.value==50||datum.value==70||datum.value==90) ? datum.label : ''", "labelPadding": 14, "labelFontSize": 11, "labelColor": "#8a8a8a", "labelOverlap": false}}
   }},
  {"data": {"values": [{}]}, "mark": {"type": "rect", "fill": "#5e5e5e", "x": 763, "x2": 804},
   "encoding": {"y": {"datum": 84.6, "type": "quantitative",
      "axis": {"orient": "right", "values": [20, 30, 40, 50, 60, 70, 80, 90, 100], "grid": true, "labelExpr": "(datum.value==30||datum.value==50||datum.value==70||datum.value==90) ? datum.label : ''", "labelPadding": 14, "labelFontSize": 11, "labelColor": "#8a8a8a", "labelOverlap": false}},
     "y2": {"datum": 75.4}}},
  {"data": {"values": [{}]}, "mark": {"type": "text", "x": 783.5, "align": "center", "baseline": "middle", "fontSize": 11, "fontWeight": "bold", "color": "#ffffff", "text": "76.36"},
   "encoding": {"y": {"datum": 80, "type": "quantitative",
      "axis": {"orient": "right", "values": [20, 30, 40, 50, 60, 70, 80, 90, 100], "grid": true, "labelExpr": "(datum.value==30||datum.value==50||datum.value==70||datum.value==90) ? datum.label : ''", "labelPadding": 14, "labelFontSize": 11, "labelColor": "#8a8a8a", "labelOverlap": false}}}},
  {"data": {"values": [{}]}, "mark": {"type": "text", "x": -58, "y": 8, "align": "left", "baseline": "middle", "fontSize": 14, "fontWeight": "bold", "color": "#666666", "text": "RSI 14"}, "encoding": {}}
 ]}
],
"resolve": {"scale": {"y": "independent"}}
}
]
}
